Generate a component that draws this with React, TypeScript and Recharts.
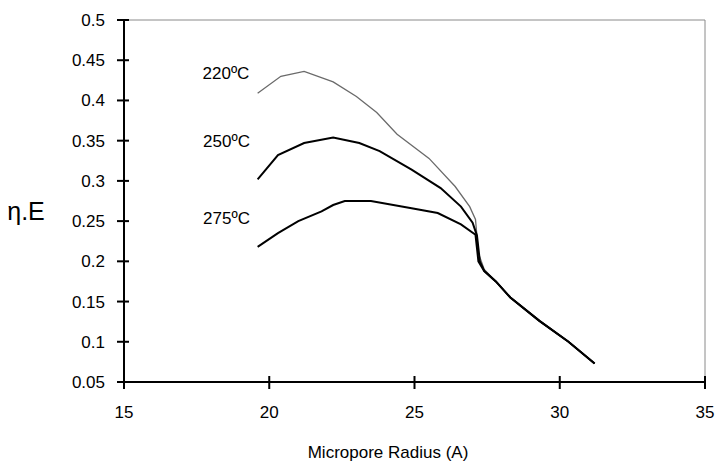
import React from 'react';
import { LineChart, Line, XAxis, YAxis, ReferenceLine, ReferenceDot, Label } from 'recharts';

// x: micropore radius (A), y: eta.E
const radius220 = [19.6, 20.4, 21.2, 22.2, 23.0, 23.7, 24.4, 25.5, 26.4, 26.9, 27.1, 27.2, 27.4, 27.8, 28.3, 29.3, 30.3, 31.2];
const eta220 = [0.409, 0.43, 0.436, 0.423, 0.405, 0.385, 0.358, 0.328, 0.293, 0.268, 0.252, 0.21, 0.19, 0.175, 0.155, 0.126, 0.1, 0.073];

const radius250 = [19.6, 20.3, 21.2, 22.2, 23.1, 23.8, 24.9, 25.9, 26.6, 27.0, 27.15, 27.25, 27.4, 27.8, 28.3, 29.3, 30.3, 31.2];
const eta250 = [0.302, 0.332, 0.347, 0.354, 0.347, 0.337, 0.314, 0.291, 0.268, 0.248, 0.232, 0.2, 0.188, 0.175, 0.155, 0.126, 0.1, 0.073];

const radius275 = [19.6, 20.3, 21.0, 21.8, 22.2, 22.6, 23.5, 24.9, 25.8, 26.6, 27.1, 27.2, 27.4, 27.8, 28.3, 29.3, 30.3, 31.2];
const eta275 = [0.218, 0.235, 0.25, 0.262, 0.27, 0.275, 0.275, 0.266, 0.26, 0.246, 0.233, 0.2, 0.188, 0.175, 0.155, 0.126, 0.1, 0.073];

const seriesNames = ['220ºC', '250ºC', '275ºC'];
const xTicks = [15, 20, 25, 30, 35];
const yTicks = [0.05, 0.1, 0.15, 0.2, 0.25, 0.3, 0.35, 0.4, 0.45, 0.5];

const toPoints = (xs: number[], ys: number[]) => xs.map((x, i) => ({ x, y: ys[i] }));
const data220 = toPoints(radius220, eta220);
const data250 = toPoints(radius250, eta250);
const data275 = toPoints(radius275, eta275);

const FONT = '"Liberation Sans", Arial, sans-serif';
const fmt = (v: number) => Number(v.toFixed(2)).toString();

// tick marks cross the axis, so both halves are drawn here
const YTick = (props: any) => {
  const { x, y, payload } = props;
  return (
    <g>
      <rect x={x - 7} y={y - 1} width={12} height={2} fill="#000" />
      <text x={x - 19} y={y} dy="0.35em" textAnchor="end" fontSize={17} fontFamily={FONT} fill="#000">
        {fmt(payload.value)}
      </text>
    </g>
  );
};

const XTick = (props: any) => {
  const { x, y, payload } = props;
  return (
    <g>
      <rect x={x - 1} y={y - 6} width={2} height={13} fill="#000" />
      <text x={x} y={y + 30} dy="0.35em" textAnchor="middle" fontSize={17} fontFamily={FONT} fill="#000">
        {payload.value}
      </text>
    </g>
  );
};

const seriesLabel = (value: string) => ({
  value,
  position: 'center' as const,
  fontSize: 17,
  fontFamily: FONT,
  fill: '#000',
});

export default function App() {
  return (
    <div style={{ position: 'absolute', left: 0, top: 0, background: '#fff' }}>
      <LineChart width={715} height={464} margin={{ top: 20, right: 10, left: 0, bottom: 0 }}>
        <XAxis
          type="number"
          dataKey="x"
          domain={[15, 35]}
          ticks={xTicks}
          allowDataOverflow
          height={82}
          axisLine={{ stroke: '#000', strokeWidth: 2 }}
          tickLine={false}
          tickSize={0}
          tickMargin={0}
          tick={<XTick />}
        >
          <Label
            content={() => (
              <text x={388} y={458} textAnchor="middle" fontSize={17} fontFamily={FONT} fill="#000">
                Micropore Radius (A)
              </text>
            )}
          />
        </XAxis>
        <YAxis
          type="number"
          domain={[0.05, 0.5]}
          ticks={yTicks}
          allowDataOverflow
          width={124}
          axisLine={{ stroke: '#000', strokeWidth: 2 }}
          tickLine={false}
          tickSize={0}
          tickMargin={0}
          tick={<YTick />}
        >
          <Label
            content={() => (
              <text x={26} y={220} textAnchor="middle" fontSize={25} fontFamily={FONT} fill="#000">
                η.E
              </text>
            )}
          />
        </YAxis>
        <ReferenceLine y={0.5} stroke="#8a8a8a" strokeWidth={1} />
        <ReferenceLine x={35} stroke="#8a8a8a" strokeWidth={1} />
        <Line data={data220} dataKey="y" name={seriesNames[0]} stroke="#6a6a6a" strokeWidth={1.3} dot={false} isAnimationActive={false} />
        <Line data={data250} dataKey="y" name={seriesNames[1]} stroke="#000" strokeWidth={2} dot={false} isAnimationActive={false} />
        <Line data={data275} dataKey="y" name={seriesNames[2]} stroke="#000" strokeWidth={2} dot={false} isAnimationActive={false} />
        <ReferenceDot x={18.51} y={0.4336} r={0} stroke="none" fill="none" label={seriesLabel(seriesNames[0])} />
        <ReferenceDot x={18.53} y={0.35} r={0} stroke="none" fill="none" label={seriesLabel(seriesNames[1])} />
        <ReferenceDot x={18.53} y={0.254} r={0} stroke="none" fill="none" label={seriesLabel(seriesNames[2])} />
      </LineChart>
    </div>
  );
}
